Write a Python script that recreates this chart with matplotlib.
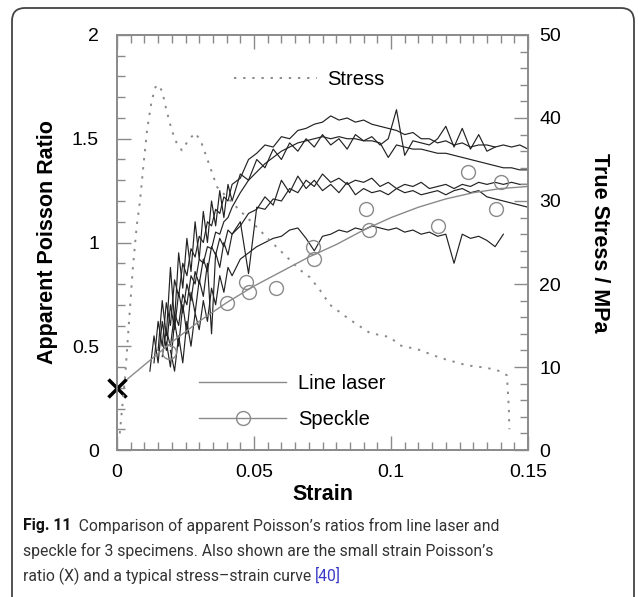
"""Apparent Poisson ratio vs strain, with a typical stress-strain curve."""
import numpy as np
import matplotlib
matplotlib.use('Agg')
import matplotlib.pyplot as plt
from matplotlib.lines import Line2D
from matplotlib.patches import FancyBboxPatch
from matplotlib.ticker import MultipleLocator, FuncFormatter

nan = np.nan

# shared strain grid for the line laser traces
strain_grid = [0.0120, 0.0135, 0.0150, 0.0165, 0.0180, 0.0195, 0.0210, 0.0225, 0.0240, 0.0255,
               0.0270, 0.0285, 0.0300, 0.0315, 0.0330, 0.0345, 0.0360, 0.0375, 0.0390, 0.0405,
               0.0420, 0.045, 0.048, 0.051, 0.054, 0.057, 0.060, 0.063, 0.066, 0.069,
               0.072, 0.075, 0.078, 0.081, 0.084, 0.087, 0.090, 0.093, 0.096, 0.099,
               0.102, 0.105, 0.108, 0.111, 0.114, 0.117, 0.120, 0.123, 0.126, 0.129,
               0.132, 0.135, 0.138, 0.141, 0.144, 0.147, 0.150]

laser_a = [nan, 0.42, 0.62, 0.50, 0.71, 0.60, 0.82, 0.74, 0.90, 0.84, 0.97,
           0.93, 1.03, 1.00, 1.10, 1.08, 1.16, 1.14, 1.22, 1.20, 1.28,
           1.31, 1.40, 1.43, 1.47, 1.46, 1.51, 1.50, 1.54, 1.55, 1.57,
           1.58, 1.61, 1.59, 1.60, 1.58, 1.59, 1.57, 1.56, 1.55, 1.54,
           1.52, 1.53, 1.50, 1.50, 1.48, 1.49, 1.47, 1.48, 1.46, 1.47,
           1.47, 1.46, 1.47, 1.46, 1.47, 1.45]
laser_b = [nan, nan, 0.48, 0.72, 0.55, 0.88, 0.62, 0.95, 0.78, 1.02, 0.86,
           1.10, 0.92, 1.15, 1.00, 1.20, 1.08, 1.25, 1.12, 1.28, 1.20,
           1.33, 1.30, 1.40, 1.36, 1.45, 1.40, 1.48, 1.44, 1.50, 1.46,
           1.52, 1.47, 1.50, 1.45, 1.52, 1.49, 1.51, 1.47, 1.50, 1.64,
           1.42, 1.49, 1.48, 1.47, 1.50, 1.56, 1.46, 1.55, 1.45, 1.52,
           1.44, 1.46, nan, nan, nan, nan]
laser_c = [nan, nan, nan, 0.45, 0.58, 0.50, 0.66, 0.60, 0.75, 0.70, 0.84,
           0.80, 0.92, 0.90, 0.98, 0.97, 1.05, 1.04, 1.10, 1.12, 1.17,
           1.24, 1.30, 1.34, 1.38, 1.41, 1.44, 1.46, 1.48, 1.49, 1.50,
           1.51, 1.50, 1.51, 1.50, 1.50, 1.49, 1.49, 1.48, 1.41, 1.47,
           1.46, 1.45, 1.45, 1.44, 1.43, 1.43, 1.42, 1.41, 1.40, 1.39,
           1.38, 1.37, 1.36, 1.36, 1.35, 1.35]
laser_d = [0.38, 0.55, 0.42, 0.62, 0.48, 0.70, 0.58, 0.76, 0.66, 0.80, 0.72,
           0.86, 0.80, 0.92, 0.86, 0.98, 0.94, 1.02, 0.98, 1.06, 1.04,
           1.10, 0.85, 1.17, 1.16, 1.21, 1.20, 1.26, 1.24, 1.30, 1.27,
           1.33, 1.29, 1.31, 1.28, 1.30, 1.29, 1.31, 1.27, 1.29, 1.26,
           1.28, 1.27, 1.29, 1.26, 1.27, 1.28, 1.26, 1.28, 1.27, 1.29,
           1.28, 1.29, 1.28, 1.29, 1.28, 1.28]
laser_e = [nan, nan, nan, nan, 0.52, 0.40, 0.62, 0.50, 0.70, 0.56, 0.76,
           0.66, 0.82, 0.74, 0.90, 0.56, 0.95, 0.88, 1.00, 0.94, 1.04,
           1.08, 1.14, 1.16, 1.22, 1.18, 1.30, 1.24, 1.32, 1.26, 1.30,
           1.25, 1.28, 1.24, 1.29, 1.23, 1.26, 1.24, 1.25, 1.23, 1.26,
           1.24, 1.25, 1.23, 1.24, 1.25, 1.23, 1.25, 1.26, 1.24, 1.25,
           1.22, 1.21, 1.20, 1.19, 1.18, 1.17]
laser_f = [nan, nan, nan, nan, nan, 0.48, 0.38, 0.55, 0.42, 0.62, 0.50,
           0.66, 0.58, 0.72, 0.62, 0.78, 0.70, 0.84, 0.76, 0.88, 0.84,
           0.92, 0.95, 0.98, 1.00, 1.02, 1.03, 1.06, 1.07, 1.02, 0.96,
           1.03, 1.04, 1.06, 1.05, 1.07, 1.06, 1.08, 1.07, 1.06, 1.07,
           1.05, 1.06, 1.04, 1.05, 1.03, 1.04, 0.90, 1.04, 1.02, 1.03,
           1.01, 0.98, 1.04, nan, nan, nan]
laser_traces = [laser_a, laser_b, laser_c, laser_d, laser_e, laser_f]

speckle_strain = [0.019, 0.040, 0.047, 0.048, 0.058, 0.0716, 0.072,
                  0.091, 0.092, 0.117, 0.128, 0.1385, 0.140]
speckle_ratio = [0.47, 0.71, 0.81, 0.76, 0.78, 0.98, 0.92,
                 1.16, 1.06, 1.08, 1.34, 1.16, 1.29]

fit_strain = [0.00, 0.01, 0.02, 0.03, 0.04, 0.05, 0.06, 0.07,
              0.08, 0.09, 0.10, 0.11, 0.12, 0.13, 0.14, 0.15]
fit_ratio = [0.30, 0.41, 0.52, 0.62, 0.71, 0.79, 0.86, 0.93,
             0.99, 1.06, 1.12, 1.17, 1.21, 1.24, 1.26, 1.27]

small_strain_ratio = 0.3

stress_strain = [0.0010, 0.0030, 0.0045, 0.0058, 0.0072, 0.0084, 0.0097, 0.0110, 0.0126, 0.0140,
                 0.0151, 0.0165, 0.0180, 0.0200, 0.0220, 0.0237, 0.0260, 0.0285, 0.0305, 0.0330,
                 0.0365, 0.0400, 0.0450, 0.0500, 0.0550, 0.0606, 0.0668, 0.0704, 0.0740, 0.0777,
                 0.0850, 0.0923, 0.0996, 0.1033, 0.1100, 0.1180, 0.1277, 0.1350, 0.1398, 0.1423,
                 0.1430, 0.1432]
stress_mpa = [2.0, 9.0, 16.0, 22.0, 27.0, 30.0, 34.5, 38.6, 42.0, 43.7,
              44.0, 43.2, 41.0, 38.5, 36.8, 36.1, 37.3, 38.2, 37.3, 35.0,
              31.7, 30.5, 28.8, 27.2, 25.5, 23.7, 21.7, 20.8, 19.3, 17.5,
              15.7, 14.1, 13.6, 12.6, 12.1, 11.1, 10.2, 9.9, 9.5, 9.0,
              5.0, 2.5]

GRAY = '#8a8a8a'
plt.rcParams['font.family'] = ['Liberation Sans', 'DejaVu Sans']

fig = plt.figure(figsize=(6.38, 5.97), dpi=100)
ax = fig.add_axes([0.1834, 0.2462, 0.6442, 0.6952])
ax2 = ax.twinx()

for trace in laser_traces:
    ax.plot(strain_grid, trace, color='#222222', lw=0.85)

ax.plot(fit_strain, fit_ratio, color=GRAY, lw=1.0)
ax.plot(speckle_strain, speckle_ratio, ls='none', marker='o', ms=10,
        mfc='none', mec=GRAY, mew=1.0)
ax.plot([0], [small_strain_ratio], ls='none', marker='x', ms=13,
        mew=2.5, color='black', clip_on=False, zorder=5)

ax2.plot(stress_strain, stress_mpa, color=GRAY, lw=1.4, ls=(0, (1.2, 3.5)))

ax.set_xlim(0, 0.15)
ax.set_ylim(0, 2)
ax2.set_ylim(0, 50)

fmt = FuncFormatter(lambda v, p: f'{v:g}')
ax.xaxis.set_major_locator(MultipleLocator(0.05))
ax.xaxis.set_minor_locator(MultipleLocator(0.005))
ax.yaxis.set_major_locator(MultipleLocator(0.5))
ax.yaxis.set_minor_locator(MultipleLocator(0.1))
ax2.yaxis.set_major_locator(MultipleLocator(10))
ax2.yaxis.set_minor_locator(MultipleLocator(2))
ax.xaxis.set_major_formatter(fmt)
ax.yaxis.set_major_formatter(fmt)
ax2.yaxis.set_major_formatter(fmt)

ax.tick_params(axis='x', which='both', direction='in', top=True, colors=GRAY,
               labelcolor='black', labelsize=14, pad=10)
ax.tick_params(axis='y', which='both', direction='in', right=False, colors=GRAY,
               labelcolor='black', labelsize=14, pad=13)
ax2.tick_params(axis='y', which='both', direction='in', colors=GRAY,
                labelcolor='black', labelsize=14, pad=8)
for a in (ax, ax2):
    a.tick_params(which='major', length=10, width=1)
    a.tick_params(which='minor', length=5.5, width=1)
    for sp in a.spines.values():
        sp.set_color(GRAY)
        sp.set_linewidth(1.2)

ax.set_xlabel('Strain', fontsize=15.5, fontweight='bold', labelpad=2)
ax.set_ylabel('Apparent Poisson Ratio', fontsize=15.5, fontweight='bold', labelpad=10)
ax2.set_ylabel('True Stress / MPa', fontsize=15.5, fontweight='bold',
               rotation=-90, va='bottom', labelpad=20)

ax.legend(handles=[Line2D([], [], color=GRAY, lw=1.0),
                   Line2D([], [], color=GRAY, lw=1.0, marker='o', ms=10,
                          mfc='none', mec=GRAY)],
          labels=['Line laser', 'Speckle'], loc='lower left',
          bbox_to_anchor=(0.2, 0.05), frameon=False, fontsize=14.5,
          handlelength=4.3, handletextpad=0.6, labelspacing=0.85,
          borderpad=0, borderaxespad=0)
ax2.legend(handles=[Line2D([], [], color=GRAY, lw=1.4, ls=(0, (1.2, 3.5)))],
           labels=['Stress'], loc='center left', bbox_to_anchor=(0.285, 0.892),
           frameon=False, fontsize=14.5, handlelength=4.1, handletextpad=0.5,
           borderpad=0, borderaxespad=0)

# caption and rounded frame
cap = fig.add_axes([0, 0, 1, 1], zorder=-1)
cap.axis('off')
frame = FancyBboxPatch((0.12, -0.3), 6.22, 6.19,
                       boxstyle='round,pad=0,rounding_size=0.13',
                       transform=fig.dpi_scale_trans, fill=False,
                       ec='#444444', lw=1.3)
fig.add_artist(frame)

cap_font = ['Roboto', 'DejaVu Sans']
cap_size = 11.3
t1 = cap.text(0.036, 0.119, 'Fig. 11', fontsize=cap_size, fontweight='bold',
              family=cap_font, va='center', color='#111111')
cap.annotate('  Comparison of apparent Poisson\u2019s ratios from line laser and',
             xy=(1, 0.5), xycoords=t1, va='center', fontsize=cap_size,
             family=cap_font, color='#333333')
cap.text(0.036, 0.077,
         'speckle for 3 specimens. Also shown are the small strain Poisson\u2019s',
         fontsize=cap_size, family=cap_font, va='center', color='#333333')
t3 = cap.text(0.036, 0.035, 'ratio (X) and a typical stress\u2013strain curve ',
              fontsize=cap_size, family=cap_font, va='center', color='#333333')
cap.annotate('[40]', xy=(1, 0.5), xycoords=t3, va='center', fontsize=cap_size,
             family=cap_font, color='#3a3ac8')

fig.savefig('out.png', dpi=100)
